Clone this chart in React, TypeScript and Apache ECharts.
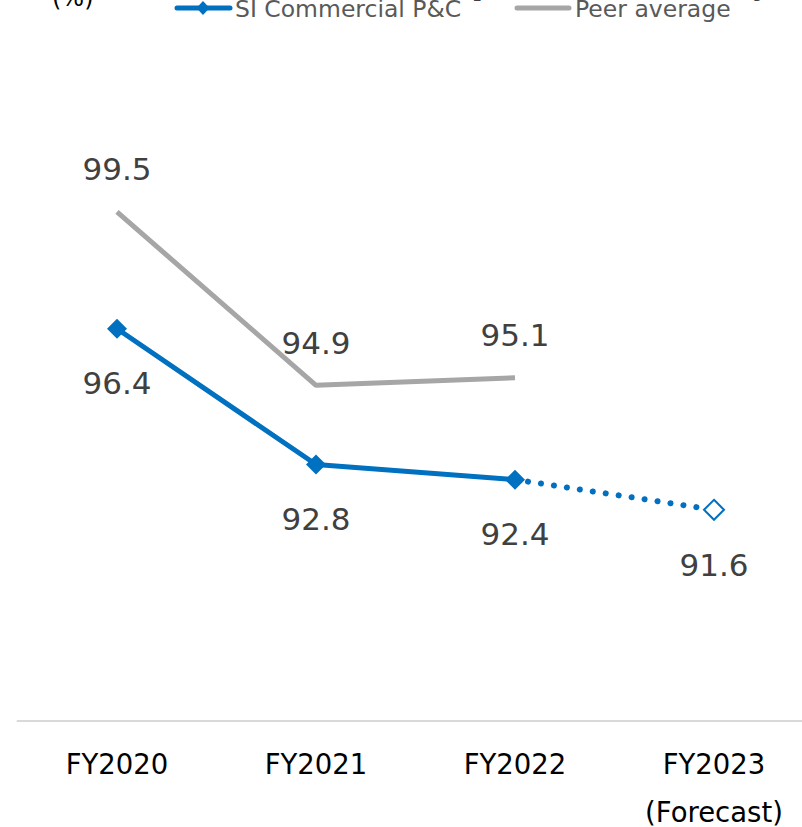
import React, { useEffect, useRef } from "react";
import * as echarts from "echarts";

const categories = ["FY2020", "FY2021", "FY2022", "FY2023\n(Forecast)"];
const siValues = [96.4, 92.8, 92.4, null];
const forecastValues = [null, null, 92.4, 91.6];
const peerValues = [99.5, 94.9, 95.1, null];
const legendNames = ["SI Commercial P&C", "Peer average"];
const legendNotes = ["*2", "*3"];

const BLUE = "#0070C0";
const GRAY = "#A6A6A6";
const FONT = "DejaVu Sans";

export default function App() {
  const ref = useRef<HTMLDivElement>(null);
  useEffect(() => {
    if (!ref.current) return;
    const chart = echarts.init(ref.current, null, { renderer: "svg" });
    const valueLabel = {
      show: true,
      fontFamily: FONT,
      fontSize: 31,
      color: "#404040",
    };
    chart.setOption({
      animation: false,
      grid: { left: 17.5, width: 796, top: 193, height: 528, outerBoundsMode: "none", containLabel: false },
      graphic: [
        {
          type: "text",
          left: 52,
          top: -14,
          style: { text: "(%)", font: `24px ${FONT}`, fill: "#000" },
        },
        {
          type: "line",
          shape: { x1: 177, y1: 8, x2: 230, y2: 8 },
          style: { stroke: BLUE, lineWidth: 5, lineCap: "round" },
        },
        {
          type: "polygon",
          shape: { points: [[203, 1], [209.5, 8], [203, 15], [196.5, 8]] },
          style: { fill: BLUE },
        },
        {
          type: "text",
          x: 235,
          y: 9,
          style: { text: legendNames[0], font: `23.5px ${FONT}`, fill: "#595959", textVerticalAlign: "middle" },
        },
        {
          type: "text",
          x: 466,
          y: 3,
          style: { text: legendNotes[0], font: `14px ${FONT}`, fill: "#404040", textVerticalAlign: "bottom" },
        },
        {
          type: "line",
          shape: { x1: 517, y1: 8, x2: 569, y2: 8 },
          style: { stroke: GRAY, lineWidth: 5, lineCap: "round" },
        },
        {
          type: "text",
          x: 575,
          y: 9,
          style: { text: legendNames[1], font: `23.5px ${FONT}`, fill: "#595959", textVerticalAlign: "middle" },
        },
        {
          type: "text",
          x: 746,
          y: 3,
          style: { text: legendNotes[1], font: `14px ${FONT}`, fill: "#404040", textVerticalAlign: "bottom" },
        },
      ],
      xAxis: {
        type: "category",
        data: categories,
        boundaryGap: true,
        axisLine: { lineStyle: { color: "#D9D9D9", width: 2 } },
        axisTick: { show: false },
        axisLabel: {
          fontFamily: FONT,
          fontSize: 27.5,
          color: "#000",
          lineHeight: 48,
          margin: 19,
          interval: 0,
          hideOverlap: false,
        },
      },
      yAxis: {
        type: "value",
        min: 86,
        max: 100,
        show: false,
        splitLine: { show: false },
      },
      series: [
        {
          name: "Peer average",
          type: "line",
          data: peerValues,
          symbol: "circle",
          symbolSize: 2,
          showSymbol: true,
          itemStyle: { color: "rgba(0,0,0,0)", borderWidth: 0 },
          lineStyle: { color: GRAY, width: 5 },
          label: { ...valueLabel, position: "top", distance: 26 },
          z: 2,
        },
        {
          name: "SI Commercial P&C",
          type: "line",
          data: siValues,
          symbol: "diamond",
          symbolSize: 20,
          lineStyle: { color: BLUE, width: 5 },
          itemStyle: { color: BLUE },
          label: { ...valueLabel, position: "bottom", distance: 29 },
          z: 3,
        },
        {
          name: "Forecast",
          type: "line",
          data: forecastValues.map((v, i) =>
            i === 3
              ? {
                  value: v,
                  symbol: "diamond",
                  symbolSize: 20,
                  itemStyle: { color: "#fff", borderColor: BLUE, borderWidth: 2 },
                  label: { ...valueLabel, position: "bottom", distance: 29 },
                }
              : { value: v, symbol: "none" }
          ),
          lineStyle: { color: BLUE, width: 6, type: [0.1, 13], cap: "round" },
          itemStyle: { color: BLUE },
          z: 1,
        },
      ],
    });
    return () => chart.dispose();
  }, []);
  return <div ref={ref} style={{ width: 802, height: 827, position: "absolute", left: 0, top: 0 }} />;
}
